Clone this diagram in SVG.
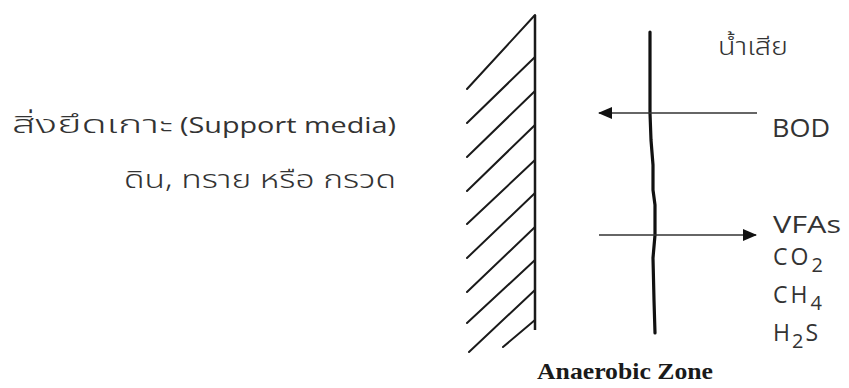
<svg xmlns="http://www.w3.org/2000/svg" width="849" height="388" viewBox="0 0 849 388">
<defs>
<style>
.th{font-family:"Noto Sans Thai","Noto Sans","Liberation Sans",sans-serif;font-weight:300;fill:#333}
.lat{font-family:"Open Sans","Liberation Sans",sans-serif;font-weight:400;fill:#333}
.zone{font-family:"Liberation Serif","Times New Roman",serif;font-weight:bold;fill:#1a1a1a}
.hatch{stroke:#1a1a1a;stroke-width:2;fill:none;stroke-linecap:round}
.wall{stroke:#1a1a1a;stroke-width:2.5;fill:none}
.mem{stroke:#111;stroke-width:3.2;fill:none;stroke-linecap:round;stroke-linejoin:round}
.arr{stroke:#333;stroke-width:1.6;fill:none}
</style>
<marker id="ah" viewBox="0 0 14 12" refX="13" refY="6" markerWidth="14" markerHeight="12" markerUnits="userSpaceOnUse" orient="auto">
<path d="M0,0 L14,6 L0,12 Z" fill="#111"/>
</marker>
</defs>
<rect width="849" height="388" fill="#fff"/>

<g id="support-media">
<text class="th" x="12" y="133" font-size="25" textLength="161" lengthAdjust="spacingAndGlyphs">สิ่งยึดเกาะ</text>
<text class="lat" x="180" y="133" font-size="22" font-weight="300" textLength="216" lengthAdjust="spacingAndGlyphs">(Support media)</text>
<text class="th" x="124" y="188" font-size="25" textLength="272" lengthAdjust="spacingAndGlyphs">ดิน, ทราย หรือ กรวด</text>
</g>

<g id="wall">
<line class="wall" x1="535" y1="15" x2="535" y2="330"/>
<line class="hatch" x1="535" y1="15" x2="467" y2="89"/>
<line class="hatch" x1="535" y1="57" x2="467" y2="123"/>
<line class="hatch" x1="535" y1="91" x2="467" y2="157"/>
<line class="hatch" x1="535" y1="125" x2="467" y2="191"/>
<line class="hatch" x1="535" y1="160" x2="467" y2="224"/>
<line class="hatch" x1="535" y1="193" x2="467" y2="258"/>
<line class="hatch" x1="535" y1="227" x2="467" y2="292"/>
<line class="hatch" x1="535" y1="260" x2="467" y2="323"/>
<line class="hatch" x1="535" y1="290" x2="469" y2="352"/>
<line class="hatch" x1="535" y1="320" x2="503" y2="347"/>
</g>

<g id="biofilm-boundary">
<path class="mem" d="M650,32 L650,113 L651,140 L653,165 L653,190 L655,205 L655,235 L653,258 L654,300 L655,333"/>
</g>

<g id="wastewater">
<text class="th" x="718" y="55" font-size="24" textLength="70" lengthAdjust="spacingAndGlyphs">น้ำเสีย</text>
<text class="lat" x="772" y="137" font-size="25" textLength="58" lengthAdjust="spacingAndGlyphs">BOD</text>
</g>

<g id="products">
<text class="lat" x="773" y="233" font-size="23" textLength="68" lengthAdjust="spacingAndGlyphs">VFAs</text>
<text class="lat" x="773" y="265" font-size="23" letter-spacing="3">CO<tspan font-size="20" dy="7">2</tspan></text>
<text class="lat" x="773" y="303" font-size="23" letter-spacing="3">CH<tspan font-size="20" dy="7">4</tspan></text>
<text class="lat" x="773" y="341" font-size="23" letter-spacing="2">H<tspan font-size="20" dy="7">2</tspan><tspan dy="-7">S</tspan></text>
</g>

<g id="connectors">
<line class="arr" x1="757" y1="113" x2="599" y2="113" marker-end="url(#ah)"/>
<line class="arr" x1="599" y1="235" x2="756" y2="235" marker-end="url(#ah)"/>
</g>

<g id="zone-label">
<text class="zone" x="537" y="379" font-size="24" textLength="176" lengthAdjust="spacingAndGlyphs">Anaerobic Zone</text>
</g>
</svg>
